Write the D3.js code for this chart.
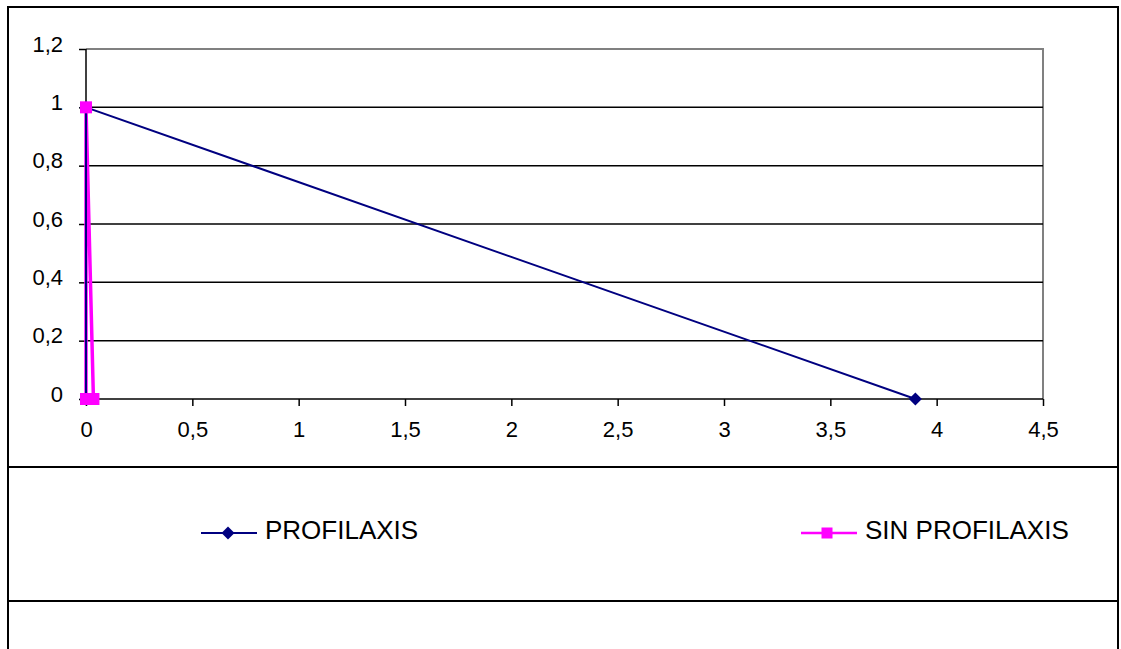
<!DOCTYPE html>
<html>
<head>
<meta charset="utf-8">
<script src="https://cdn.jsdelivr.net/npm/d3@7"></script>
<style>
  html, body { margin: 0; padding: 0; background: #fff; }
  svg { display: block; }
  text { font-family: Arial, "Liberation Sans", sans-serif; fill: #000; }
</style>
</head>
<body>
<svg id="chart" width="1121" height="649"></svg>
<script>
// Series data
const seriesNames = ["PROFILAXIS", "SIN PROFILAXIS"];
const profilaxisX = [0, 0, 3.9];
const profilaxisY = [0, 1, 0];
const sinProfilaxisX = [0, 0, 0.035];
const sinProfilaxisY = [0, 1, 0];

// Axis ticks
const xTicks = [0, 0.5, 1, 1.5, 2, 2.5, 3, 3.5, 4, 4.5];
const yTicks = [0, 0.2, 0.4, 0.6, 0.8, 1, 1.2];

const fmt = v => String(v).replace(".", ",");

const svg = d3.select("#chart");
const plot = { left: 86, right: 1043, top: 49, bottom: 399 };

const x = d3.scaleLinear().domain([0, 4.5]).range([plot.left, plot.right]);
const y = d3.scaleLinear().domain([0, 1.2]).range([plot.bottom, plot.top]);

// Outer frame and legend separators
svg.append("rect")
  .attr("x", 8).attr("y", 7).attr("width", 1110).attr("height", 700)
  .attr("fill", "none").attr("stroke", "#000").attr("stroke-width", 2);
[467, 601].forEach(yy => {
  svg.append("line")
    .attr("x1", 8).attr("x2", 1118).attr("y1", yy).attr("y2", yy)
    .attr("stroke", "#000").attr("stroke-width", 2);
});

// Plot area border (grey top and right)
svg.append("path")
  .attr("d", `M${plot.left},${plot.top}H${plot.right}V${plot.bottom}`)
  .attr("fill", "none").attr("stroke", "#808080").attr("stroke-width", 2);

// Horizontal gridlines
svg.append("g").selectAll("line")
  .data(yTicks.filter(t => t > 0 && t < 1.2))
  .join("line")
  .attr("x1", plot.left).attr("x2", plot.right)
  .attr("y1", d => y(d)).attr("y2", d => y(d))
  .attr("stroke", "#000").attr("stroke-width", 1.5);

// Axes
const yAxis = d3.axisLeft(y).tickValues(yTicks).tickFormat(fmt).tickSize(7).tickPadding(16);
const xAxis = d3.axisBottom(x).tickValues(xTicks).tickFormat(fmt).tickSize(7).tickPadding(14);

const gy = svg.append("g").attr("transform", `translate(${plot.left},0)`).call(yAxis);
const gx = svg.append("g").attr("transform", `translate(0,${plot.bottom})`).call(xAxis);

[gx, gy].forEach(g => {
  g.select(".domain").attr("stroke", "#000").attr("stroke-width", 1.5);
  g.selectAll(".tick line").attr("stroke", "#000").attr("stroke-width", 1.5);
  g.selectAll(".tick text")
    .attr("font-family", "Arial, 'Liberation Sans', sans-serif")
    .attr("font-size", 22).attr("fill", "#000");
});
gy.selectAll(".tick text").attr("dy", "0.1em");
gx.selectAll(".tick text").attr("dy", "0.75em");
gy.select(".domain").attr("d", `M0,${plot.bottom}V${plot.top}`);
gx.select(".domain").attr("d", `M${plot.left},0H${plot.right}`);

const navy = "#000080", pink = "#FF00FF";
const toPts = (xs, ys) => xs.map((v, i) => [v, ys[i]]);
const profPts = toPts(profilaxisX, profilaxisY);
const sinPts = toPts(sinProfilaxisX, sinProfilaxisY);

const line = d3.line().x(d => x(d[0])).y(d => y(d[1]));

// Lines
svg.append("path").datum(sinPts).attr("d", line)
  .attr("fill", "none").attr("stroke", pink).attr("stroke-width", 3.5)
  .attr("stroke-linejoin", "miter");
svg.append("path").datum(profPts).attr("d", line)
  .attr("fill", "none").attr("stroke", navy).attr("stroke-width", 2);

// Markers
const diamond = (cx, cy, r) => `M${cx},${cy - r}L${cx + r},${cy}L${cx},${cy + r}L${cx - r},${cy}Z`;
svg.append("g").selectAll("path").data(profPts).join("path")
  .attr("d", d => diamond(x(d[0]), y(d[1]), 6.5)).attr("fill", navy);
svg.append("g").selectAll("rect").data(sinPts).join("rect")
  .attr("x", d => x(d[0]) - 6).attr("y", d => y(d[1]) - 6)
  .attr("width", 12).attr("height", 12).attr("fill", pink);

// Legend
const legend = [
  { name: seriesNames[0], color: navy, lx: 201, shape: "diamond" },
  { name: seriesNames[1], color: pink, lx: 801, shape: "square" }
];
const ly = 533;
legend.forEach(l => {
  const g = svg.append("g");
  g.append("line").attr("x1", l.lx).attr("x2", l.lx + 56).attr("y1", ly).attr("y2", ly)
    .attr("stroke", l.color).attr("stroke-width", l.shape === "square" ? 2.5 : 2);
  if (l.shape === "diamond") {
    g.append("path").attr("d", diamond(l.lx + 27, ly, 6.5)).attr("fill", l.color);
  } else {
    g.append("rect").attr("x", l.lx + 26 - 5.5).attr("y", ly - 5.5)
      .attr("width", 11).attr("height", 11).attr("fill", l.color);
  }
  g.append("text").attr("x", l.lx + 64).attr("y", 539)
    .attr("font-size", 26).text(l.name);
});
</script>
</body>
</html>
